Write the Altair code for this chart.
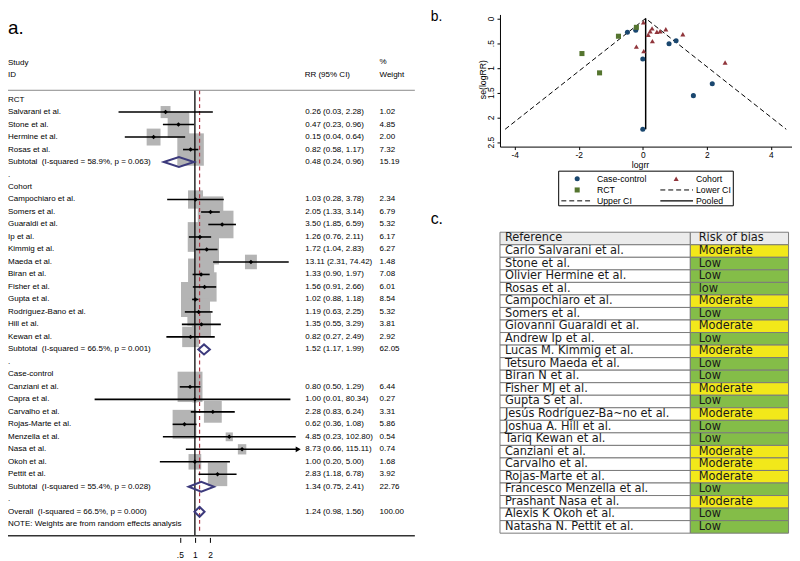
import altair as alt
import pandas as pd

# ------------------------------------------------------------------ data
rct_names = ["Salvarani et al.", "Stone et al.", "Hermine et al.", "Rosas et al."]
rct_rr = [0.26, 0.47, 0.15, 0.82]
rct_lo = [0.03, 0.23, 0.04, 0.58]
rct_hi = [2.28, 0.96, 0.64, 1.17]
rct_wt = [1.02, 4.85, 2.00, 7.32]

cohort_names = ["Campochiaro et al.", "Somers et al.", "Guaraldi et al.", "Ip et al.",
                "Kimmig et al.", "Maeda et al.", "Biran et al.", "Fisher et al.",
                "Gupta et al.", "Rodríguez-Bano et al.", "Hill et al.", "Kewan et al."]
cohort_rr = [1.03, 2.05, 3.50, 1.26, 1.72, 13.11, 1.33, 1.56, 1.02, 1.19, 1.35, 0.82]
cohort_lo = [0.28, 1.33, 1.85, 0.76, 1.04, 2.31, 0.90, 0.91, 0.88, 0.63, 0.55, 0.27]
cohort_hi = [3.78, 3.14, 6.59, 2.11, 2.83, 74.42, 1.97, 2.66, 1.18, 2.25, 3.29, 2.49]
cohort_wt = [2.34, 6.79, 5.32, 6.17, 6.27, 1.48, 7.08, 6.01, 8.54, 5.32, 3.81, 2.92]

cc_names = ["Canziani et al.", "Capra et al.", "Carvalho et al.", "Rojas-Marte et al.",
            "Menzella et al.", "Nasa et al.", "Okoh et al.", "Pettit et al."]
cc_rr = [0.80, 1.00, 2.28, 0.62, 4.85, 8.73, 1.00, 2.83]
cc_lo = [0.50, 0.01, 0.83, 0.36, 0.23, 0.66, 0.20, 1.18]
cc_hi = [1.29, 80.34, 6.24, 1.08, 102.80, 115.11, 5.00, 6.78]
cc_wt = [6.44, 0.27, 3.31, 5.86, 0.54, 0.74, 1.68, 3.92]

group_names = ["RCT", "Cohort", "Case-control"]
sub_rr = [0.48, 1.52, 1.34]
sub_lo = [0.24, 1.17, 0.75]
sub_hi = [0.96, 1.99, 2.41]
sub_wt = [15.19, 62.05, 22.76]
sub_i2 = ["58.9", "66.5", "55.4"]
sub_p = ["0.063", "0.001", "0.028"]

overall_rr, overall_lo, overall_hi, overall_wt = 1.24, 0.98, 1.56, 100.00
overall_i2, overall_p = "66.5", "0.000"
arrow_studies = ["Nasa et al."]
forest_ticks = [0.5, 1, 2]

# funnel plot (logRR, se) per design
fun_cc_logrr = [-0.22, 0.00, 0.82, -0.48, 1.58, 2.17, 0.00, 1.04]
fun_cc_se = [0.24, 2.24, 0.51, 0.28, 1.56, 1.32, 0.82, 0.45]
fun_cohort_logrr = [0.03, 0.72, 1.25, 0.23, 0.54, 2.57, 0.29, 0.44, 0.02, 0.17, 0.30, -0.20]
fun_cohort_se = [0.66, 0.22, 0.32, 0.26, 0.26, 0.89, 0.20, 0.27, 0.08, 0.33, 0.46, 0.57]
fun_rct_logrr = [-1.35, -0.76, -1.90, -0.20]
fun_rct_se = [1.10, 0.36, 0.71, 0.18]
ci_line_x = [-4.30, 0.09, 4.48]
ci_line_se = [2.24, 0.00, 2.24]
pooled_x = [0.09, 0.09]
pooled_se = [0.00, 2.24]
fun_x_ticks = [-4, -2, 0, 2, 4]
fun_y_ticks = [0, 0.5, 1, 1.5, 2, 2.5]

# risk of bias table
ref_names = ["Carlo Salvarani et al.", "Stone et al.", "Olivier Hermine et al.", "Rosas et al.",
             "Campochiaro et al.", "Somers et al.", "Giovanni Guaraldi et al.", "Andrew Ip et al.",
             "Lucas M. Kimmig et al.", "Tetsuro Maeda et al.", "Biran N et al.", "Fisher MJ et al.",
             "Gupta S et al.", "Jesús Rodríguez-Ba~no et al.", "Joshua A. Hill et al.",
             "Tariq Kewan et al.", "Canziani et al.", "Carvalho et al.", "Rojas-Marte et al.",
             "Francesco Menzella et al.", "Prashant Nasa et al.", "Alexis K Okoh et al.",
             "Natasha N. Pettit et al."]
ref_bias = ["Moderate", "Low", "Low", "low", "Moderate", "Low", "Moderate", "Low", "Moderate",
            "Low", "Low", "Moderate", "Low", "Moderate", "Low", "Low", "Moderate", "Moderate",
            "Moderate", "Low", "Moderate", "Low", "Low"]

# ------------------------------------------------------------------ styles
SANS = "Liberation Sans, Arial, sans-serif"
TFONT = "DejaVu Sans"
NAVY, MAROON, GREEN = "#1a476f", "#90353b", "#55752f"
YEL, GRN, HEADGRAY = "#f2e81a", "#84bd48", "#ebebeb"
BOX_PATH = "M-0.82,-1L0.82,-1L0.82,1L-0.82,1Z"
FS = 8.1

# ------------------------------------------------------------------ forest rows
groups = [
    (rct_names, rct_rr, rct_lo, rct_hi, rct_wt),
    (cohort_names, cohort_rr, cohort_lo, cohort_hi, cohort_wt),
    (cc_names, cc_rr, cc_lo, cc_hi, cc_wt),
]
NB = "\u00a0"
rows = []
r = 0
for gi, (names, rr, lo, hi, wt) in enumerate(groups):
    rows.append(dict(row=r, label=group_names[gi], kind="head")); r += 1
    for n, a, l, h, w in zip(names, rr, lo, hi, wt):
        rows.append(dict(row=r, label=n, kind="study", rr=a, lo=l, hi=h, wt=w,
                         rrtxt=f"{a:.2f} ({l:.2f}, {h:.2f})", wttxt=f"{w:.2f}"))
        r += 1
    rows.append(dict(row=r, label=f"Subtotal{NB} (I-squared = {sub_i2[gi]}%, p = {sub_p[gi]})",
                     kind="sub", rr=sub_rr[gi], lo=sub_lo[gi], hi=sub_hi[gi], wt=sub_wt[gi],
                     rrtxt=f"{sub_rr[gi]:.2f} ({sub_lo[gi]:.2f}, {sub_hi[gi]:.2f})",
                     wttxt=f"{sub_wt[gi]:.2f}"))
    r += 1
    rows.append(dict(row=r, label=".", kind="dot")); r += 1
rows.append(dict(row=r, label=f"Overall{NB} (I-squared = {overall_i2}%, p = {overall_p})",
                 kind="overall", rr=overall_rr, lo=overall_lo, hi=overall_hi, wt=overall_wt,
                 rrtxt=f"{overall_rr:.2f} ({overall_lo:.2f}, {overall_hi:.2f})",
                 wttxt=f"{overall_wt:.2f}"))
r += 1
rows.append(dict(row=r, label="NOTE: Weights are from random effects analysis", kind="note"))
NROW = r

df = pd.DataFrame(rows)
studies = df[df.kind == "study"].copy()
summ = df[df.kind.isin(["sub", "overall"])].copy()
txtrows = df.dropna(subset=["rrtxt"]).copy()

dia = []
for _, s in summ.iterrows():
    for k, (xv, dy) in enumerate([(s.lo, 0), (s.rr, -0.4), (s.hi, 0), (s.rr, 0.4)]):
        dia.append(dict(id=int(s.row), ord=k, x=xv, y=s.row + dy))
dia_df = pd.DataFrame(dia)

FX = alt.Scale(type="log", domain=[0.01, 100], range=[87.5, 290.1], nice=False)
FY = alt.Scale(domain=[0, NROW], range=[89.7, 518.7], nice=False, zero=False)


def fx(field, axis=None):
    return alt.X(field, type="quantitative", scale=FX, axis=axis)


def fy(field):
    return alt.Y(field, type="quantitative", scale=FY, axis=None)


def one():
    return pd.DataFrame({"t": ["x"]})


def label(text, x, y, size=FS, font=SANS, align="left", baseline="middle", color="black",
          angle=0):
    return alt.Chart(pd.DataFrame({"t": [text]})).mark_text(
        align=align, baseline=baseline, font=font, fontSize=size, color=color, angle=angle
    ).encode(x=alt.value(x), y=alt.value(y), text="t:N")


def hline(x1, x2, y, color="black", width=1.0, dash=None):
    kw = dict(color=color, strokeWidth=width)
    if dash:
        kw["strokeDash"] = dash
    return alt.Chart(one()).mark_rule(**kw).encode(x=alt.value(x1), x2=alt.value(x2), y=alt.value(y))


forest_axis = alt.Axis(orient="bottom", offset=-21, values=forest_ticks, domain=False, grid=False,
                       tickSize=5, tickColor="black", tickWidth=1, labelFont=SANS, labelFontSize=8.5,
                       labelColor="black", labelPadding=8, labelFlush=False, labelOverlap=False,
                       title=None,
                       labelExpr="datum.value == 0.5 ? '.5' : format(datum.value, 'd')")

boxes = alt.Chart(studies).mark_point(shape=BOX_PATH, filled=True, color="#b4b4b4",
                                      opacity=1, strokeWidth=0).encode(
    x=fx("rr"), y=fy("row"),
    size=alt.Size("wt:Q", scale=alt.Scale(domain=[0, 10], range=[0, 1460], zero=True), legend=None))

ref_one = alt.Chart(pd.DataFrame({"x": [1.0]})).mark_rule(color="black", strokeWidth=1.3).encode(
    x=fx("x"), y=alt.value(80.3), y2=alt.value(530.3))
ref_all = alt.Chart(pd.DataFrame({"x": [overall_rr]})).mark_rule(
    color="#b03a48", strokeWidth=1.2, strokeDash=[4, 3]).encode(
    x=fx("x"), y=alt.value(80.3), y2=alt.value(527))

ci = alt.Chart(studies).mark_rule(color="black", strokeWidth=1.6).encode(
    x=fx("lo", forest_axis), x2="hi", y=fy("row"))
pts = alt.Chart(studies).mark_point(shape="diamond", filled=True, color="black", size=20,
                                    opacity=1).encode(x=fx("rr"), y=fy("row"))
arrows = alt.Chart(studies[studies.label.isin(arrow_studies)]).mark_point(
    shape="triangle-right", filled=True, color="black", size=35, opacity=1).encode(
    x=fx("hi"), y=fy("row"))
diamonds = alt.Chart(dia_df).mark_line(interpolate="linear-closed", color="#3c3a7c",
                                       strokeWidth=2).encode(
    x=fx("x"), y=fy("y"), detail="id:N", order="ord:Q")

tstyle = dict(align="left", baseline="middle", font=SANS, fontSize=FS, color="black")
id_text = alt.Chart(df).mark_text(**tstyle).encode(x=alt.value(0), y=fy("row"), text="label:N")
rr_text = alt.Chart(txtrows).mark_text(**tstyle).encode(x=alt.value(300.3), y=fy("row"),
                                                         text="rrtxt:N")
wt_text = alt.Chart(txtrows).mark_text(**tstyle).encode(x=alt.value(375.3), y=fy("row"),
                                                         text="wttxt:N")

forest_layers = [
    boxes, ref_one, ref_all, ci, pts, arrows, diamonds, id_text, rr_text, wt_text,
    label("Study", 0, 53), label("ID", 0, 65.3), label("RR (95% CI)", 299.7, 65.3),
    label("%", 375.3, 52), label("Weight", 375.3, 65.3),
    hline(0, 411, 80.3, color="#8a8a8a", width=1),
    hline(0, 411, 530.3, color="#333333", width=1.5),
    label("a.", 0, 23, size=19, baseline="alphabetic"),
]

# ------------------------------------------------------------------ funnel
fun_df = pd.DataFrame({
    "group": ["Case-control"] * len(fun_cc_logrr) + ["Cohort"] * len(fun_cohort_logrr)
             + ["RCT"] * len(fun_rct_logrr),
    "logrr": fun_cc_logrr + fun_cohort_logrr + fun_rct_logrr,
    "se": fun_cc_se + fun_cohort_se + fun_rct_se,
})
FUX = alt.Scale(domain=[-4.46, 4.66], range=[497, 792], nice=False, zero=False)
FUY = alt.Scale(domain=[-0.08, 2.59], range=[3.7, 137.2], nice=False, zero=False)
GDOM = ["Case-control", "Cohort", "RCT"]

fun_x_axis = alt.Axis(orient="bottom", offset=-415.8, values=fun_x_ticks, grid=False,
                      domainColor="black", domainWidth=1, tickColor="black", tickSize=3,
                      labelFont=SANS, labelFontSize=8.5, labelColor="black", labelPadding=1,
                      labelFlush=False, labelOverlap=False,
                      labelExpr="datum.value < 0 ? '-' + format(-datum.value, 'd') : format(datum.value, 'd')",
                      title=None)
fun_y_axis = alt.Axis(orient="left", offset=-497, values=fun_y_ticks, grid=False,
                      domainColor="black", domainWidth=1, tickColor="black", tickSize=3,
                      labelFont=SANS, labelFontSize=8.5, labelColor="black", labelPadding=2,
                      labelAngle=270, labelAlign="center", labelBaseline="bottom",
                      labelFlush=False, labelOverlap=False,
                      labelExpr="datum.value == 0.5 ? '.5' : format(datum.value, '~g')",
                      title=None)

ci_df = pd.DataFrame({"x": ci_line_x, "se": ci_line_se, "ord": list(range(len(ci_line_x)))})
pool_df = pd.DataFrame({"x": pooled_x, "se": pooled_se, "ord": list(range(len(pooled_x)))})

ci_lines = alt.Chart(ci_df).mark_line(color="black", strokeWidth=1, strokeDash=[5, 3]).encode(
    x=alt.X("x:Q", scale=FUX, axis=fun_x_axis), y=alt.Y("se:Q", scale=FUY, axis=fun_y_axis),
    order="ord:Q")
pool_line = alt.Chart(pool_df).mark_line(color="black", strokeWidth=1.5).encode(
    x=alt.X("x:Q", scale=FUX, axis=None), y=alt.Y("se:Q", scale=FUY, axis=None), order="ord:Q")
fun_pts = alt.Chart(fun_df).mark_point(filled=True, size=26, opacity=1).encode(
    x=alt.X("logrr:Q", scale=FUX, axis=None), y=alt.Y("se:Q", scale=FUY, axis=None),
    color=alt.Color("group:N", scale=alt.Scale(domain=GDOM, range=[NAVY, MAROON, GREEN]),
                    legend=None),
    shape=alt.Shape("group:N", scale=alt.Scale(domain=GDOM, range=["circle", "triangle-up", "square"]),
                    legend=None))


def sym(shape, color, x, y):
    return alt.Chart(one()).mark_point(shape=shape, filled=True, color=color, size=26,
                                       opacity=1).encode(x=alt.value(x), y=alt.value(y))


legend_box = alt.Chart(one()).mark_rect(fill="white", stroke="black", strokeWidth=1).encode(
    x=alt.value(556.3), x2=alt.value(732.7), y=alt.value(162), y2=alt.value(197))

LFS = 8.8
funnel_layers = [
    ci_lines, pool_line, fun_pts, legend_box,
    label("se(logRR)", 480, 69.5, size=8.8, align="center", angle=270),
    label("logrr", 639, 155.5, size=8.8, align="center"),
    sym("circle", NAVY, 575, 169.7), label("Case-control", 595, 169.7, size=LFS),
    sym("triangle-up", MAROON, 675, 169.7), label("Cohort", 695, 169.7, size=LFS),
    sym("square", GREEN, 575, 181), label("RCT", 595, 181, size=LFS),
    hline(659, 692, 181, dash=[5, 3]), label("Lower CI", 695, 181, size=LFS),
    hline(559, 590, 192, dash=[5, 3]), label("Upper CI", 595, 192, size=LFS),
    hline(659, 692, 192, width=1.2), label("Pooled", 695, 192, size=LFS),
    label("b.", 427, 10, size=14, baseline="alphabetic"),
]

# ------------------------------------------------------------------ table
tbl = pd.DataFrame({
    "ref": ["Reference"] + ref_names,
    "bias": ["Risk of bias"] + ref_bias,
    "kind": ["head"] + ["row"] * len(ref_names),
})
TY = alt.Y("ref:N", scale=alt.Scale(domain=tbl.ref.tolist(), range=[223.7, 527.7],
                                    paddingInner=0, paddingOuter=0), axis=None)
left_cells = alt.Chart(tbl).mark_rect(stroke="#7a7a7a", strokeWidth=1).encode(
    x=alt.value(497), x2=alt.value(689.3), y=TY,
    fill=alt.Fill("kind:N", scale=alt.Scale(domain=["head", "row"], range=[HEADGRAY, "white"]),
                  legend=None))
right_cells = alt.Chart(tbl).mark_rect(stroke="#7a7a7a", strokeWidth=1).encode(
    x=alt.value(689.3), x2=alt.value(788.5), y=TY,
    fill=alt.Fill("bias:N", scale=alt.Scale(domain=["Risk of bias", "Moderate", "Low", "low"],
                                            range=[HEADGRAY, YEL, GRN, GRN]), legend=None))
tb_style = dict(align="left", baseline="middle", font=TFONT, fontSize=11.5, color="#1a1a1a")
left_txt = alt.Chart(tbl).mark_text(**tb_style).encode(x=alt.value(502), y=TY, text="ref:N")
right_txt = alt.Chart(tbl).mark_text(**tb_style).encode(x=alt.value(697.7), y=TY, text="bias:N")

table_layers = [left_cells, right_cells, left_txt, right_txt,
                label("c.", 427, 215, size=16, baseline="alphabetic")]

chart = alt.layer(*(forest_layers + funnel_layers + table_layers)).resolve_scale(
    x="independent", y="independent", color="independent", shape="independent",
    size="independent", fill="independent"
).properties(
    width=792, height=553, padding=0, autosize=alt.AutoSizeParams(type="none"),
    background="white"
).configure_view(stroke=None)

chart.save("out.html", embed_options={"renderer": "svg", "actions": False})
